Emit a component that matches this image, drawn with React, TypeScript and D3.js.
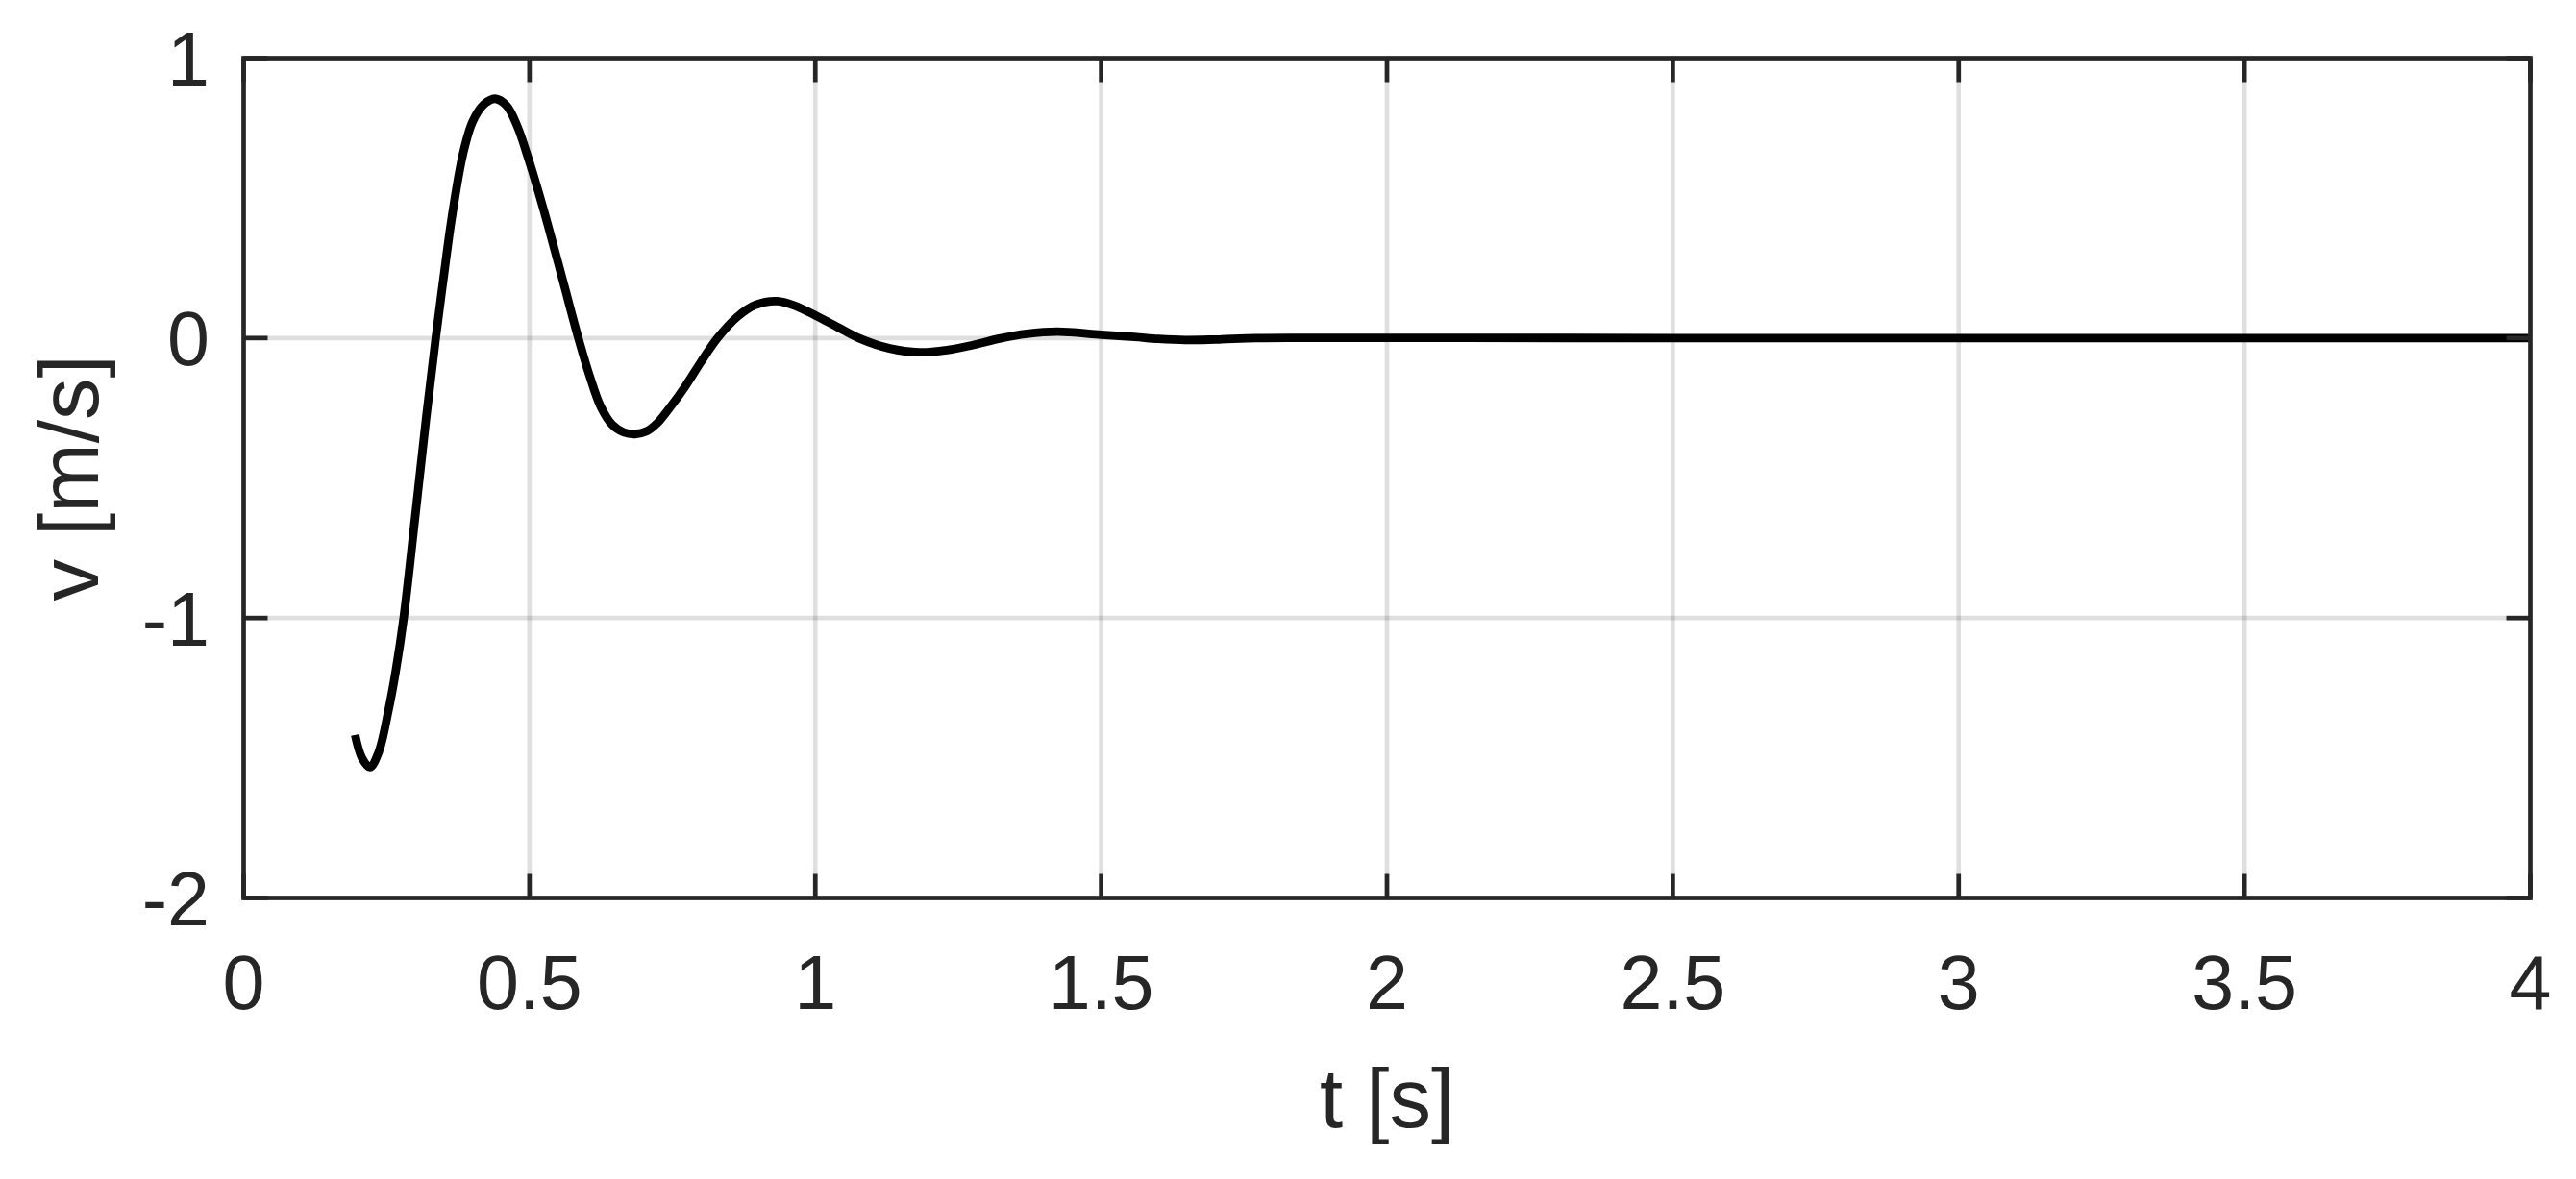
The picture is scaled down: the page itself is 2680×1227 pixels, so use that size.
import React from "react";
import * as d3 from "d3";

const tValues = [
  0.195, 0.207, 0.221, 0.236, 0.253, 0.266, 0.28, 0.2996, 0.319, 0.336, 0.35, 0.364, 0.3837,
  0.4005, 0.42, 0.4397, 0.46, 0.479, 0.4974, 0.515, 0.532, 0.5585, 0.5855, 0.606, 0.6246,
  0.645, 0.665, 0.6846, 0.705, 0.723, 0.745, 0.773, 0.8, 0.829, 0.863, 0.895, 0.933, 0.965,
  1.0, 1.04, 1.076, 1.13, 1.182, 1.23, 1.278, 1.322, 1.37, 1.423, 1.5, 1.558, 1.6, 1.647,
  1.7, 1.771, 1.85, 2.0, 2.5, 3.0, 3.5, 4.0,
];
const vValues = [
  -1.418, -1.5, -1.533, -1.48, -1.333, -1.19, -0.998, -0.646, -0.29, 0, 0.22, 0.429, 0.658,
  0.773, 0.834, 0.855, 0.83, 0.755, 0.645, 0.527, 0.405, 0.205, 0, -0.14, -0.245,
  -0.31, -0.337, -0.343, -0.333, -0.305, -0.25, -0.171, -0.085, 0, 0.075, 0.118, 0.132, 0.115,
  0.081, 0.038, 0, -0.037, -0.051, -0.043, -0.024, -0.002, 0.015, 0.023, 0.012, 0.004, -0.003, -0.007,
  -0.005, 0, 0.001, 0.001, 0, 0, 0, 0,
];
const xTicks = [0, 0.5, 1, 1.5, 2, 2.5, 3, 3.5, 4];
const yTicks = [-2, -1, 0, 1];
const xLabel = "t [s]";
const yLabel = "v [m/s]";

const W = 2680;
const H = 1227;
const L = 253.5;
const R = 2632.5;
const T = 60.5;
const B = 934.5;
const AX = "#262626";
const FONT = "'Liberation Sans', Arial, Helvetica, sans-serif";

export default function App() {
  const x = d3.scaleLinear().domain([0, 4]).range([L, R]);
  const y = d3.scaleLinear().domain([-2, 1]).range([B, T]);
  const data = tValues.map((t, i) => [t, vValues[i]] as [number, number]);
  const line = d3
    .line<[number, number]>()
    .x((d) => x(d[0]))
    .y((d) => y(d[1]))
    .curve(d3.curveCatmullRom.alpha(0.5));
  const tickLen = 25;
  return (
    <svg
      width={W}
      height={H}
      style={{ position: "absolute", left: 0, top: 0, background: "#fff" }}
      fontFamily={FONT}
    >
      <rect x={0} y={0} width={W} height={H} fill="#fff" />
      {xTicks.slice(1, -1).map((t) => (
        <line key={"gx" + t} x1={x(t)} x2={x(t)} y1={T} y2={B} stroke={AX} strokeOpacity={0.15} strokeWidth={4.7} />
      ))}
      {yTicks.slice(1, -1).map((v) => (
        <line key={"gy" + v} x1={L} x2={R} y1={y(v)} y2={y(v)} stroke={AX} strokeOpacity={0.15} strokeWidth={4.7} />
      ))}
      <path d={line(data) || ""} fill="none" stroke="#000" strokeWidth={8.8} strokeLinejoin="round" strokeLinecap="butt" />
      {xTicks.map((t) => (
        <g key={"tx" + t}>
          <line x1={x(t)} x2={x(t)} y1={B} y2={B - tickLen} stroke={AX} strokeWidth={4.7} />
          <line x1={x(t)} x2={x(t)} y1={T} y2={T + tickLen} stroke={AX} strokeWidth={4.7} />
          <text x={x(t)} y={1050} textAnchor="middle" fontSize={79} fill={AX}>
            {String(t)}
          </text>
        </g>
      ))}
      {yTicks.map((v) => (
        <g key={"ty" + v}>
          <line x1={L} x2={L + tickLen} y1={y(v)} y2={y(v)} stroke={AX} strokeWidth={4.7} />
          <line x1={R} x2={R - tickLen} y1={y(v)} y2={y(v)} stroke={AX} strokeWidth={4.7} />
          <text x={218} y={y(v)} dy="0.36em" textAnchor="end" fontSize={79} fill={AX}>
            {String(v)}
          </text>
        </g>
      ))}
      <rect x={L} y={T} width={R - L} height={B - T} fill="none" stroke={AX} strokeWidth={4.7} />
      <text x={(L + R) / 2} y={1173} textAnchor="middle" fontSize={87} fill={AX}>
        {xLabel}
      </text>
      <text
        transform={`translate(101.7, ${(T + B) / 2}) rotate(-90)`}
        textAnchor="middle"
        fontSize={87}
        fill={AX}
      >
        {yLabel}
      </text>
    </svg>
  );
}
